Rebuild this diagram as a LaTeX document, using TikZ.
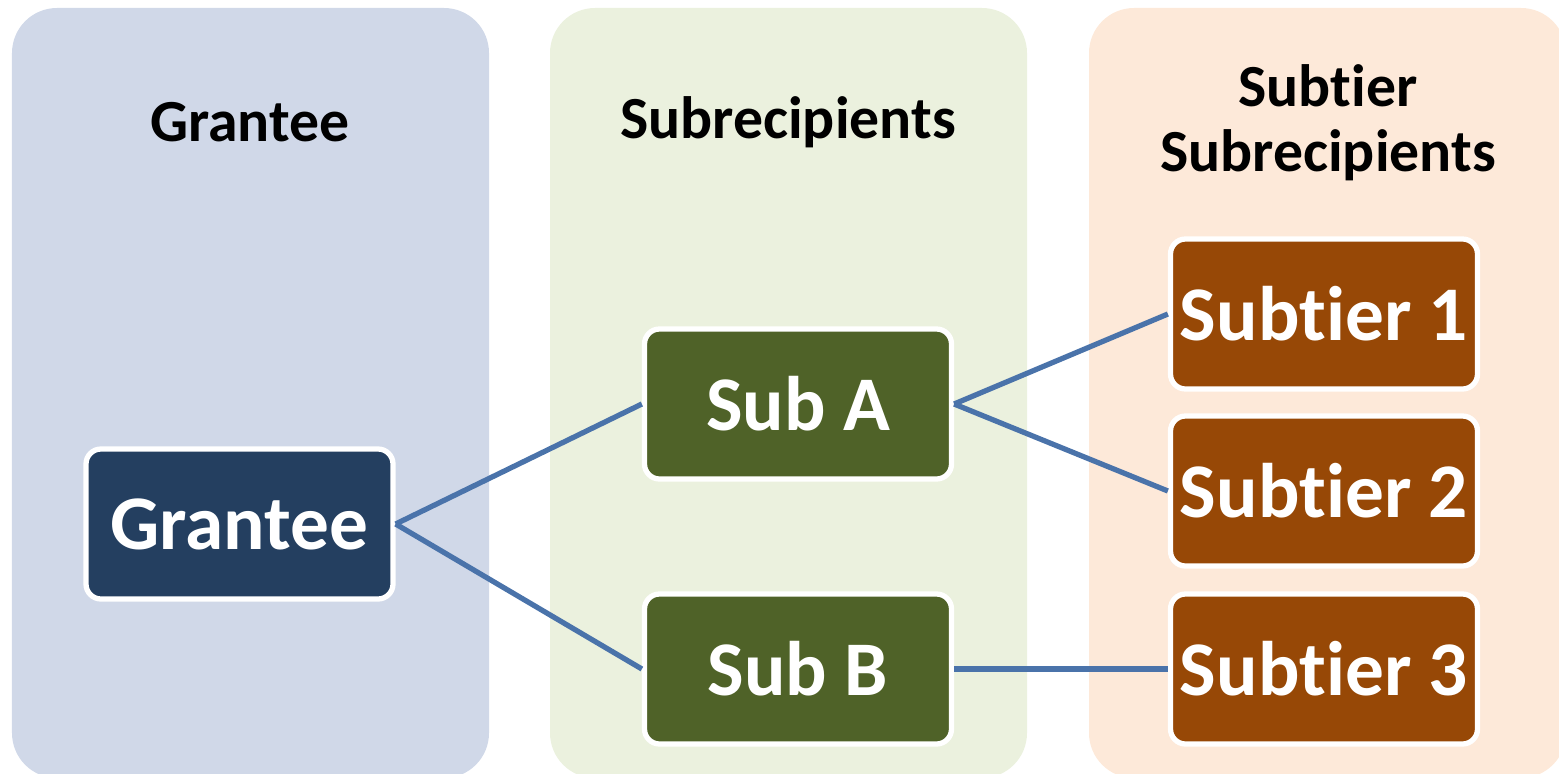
\documentclass[tikz,border=0pt]{standalone}
\usepackage{fontspec}
\setmainfont[Ligatures=NoCommon]{Carlito}
\definecolor{granteebg}{HTML}{D0D8E8}
\definecolor{subbg}{HTML}{EBF1DE}
\definecolor{subtierbg}{HTML}{FDE9D9}
\definecolor{granteefill}{HTML}{243F60}
\definecolor{subfill}{HTML}{4F6228}
\definecolor{subtierfill}{HTML}{974806}
\definecolor{linkblue}{HTML}{4A73AA}
\begin{document}
\begin{tikzpicture}[
  panel/.style={rounded corners=0.45cm},
  heading/.style={font=\bfseries\fontsize{17}{18.5}\selectfont, align=center, inner sep=0pt},
  box/.style={draw=white, line width=1.5pt, rounded corners=0.15cm, minimum width=3.07cm,
    minimum height=1.5cm, text=white, font=\bfseries\fontsize{22}{26}\selectfont, inner sep=0pt},
  link/.style={draw=linkblue, line width=1.5pt}
]
\useasboundingbox (0,0) rectangle (15.59,7.73);
\clip (0,0) rectangle (15.59,7.73);
% columns
\fill[panel, fill=granteebg] (0.12,-0.05) rectangle (4.89,7.65);
\fill[panel, fill=subbg] (5.50,-0.05) rectangle (10.27,7.65);
\fill[panel, fill=subtierbg] (10.89,-0.05) rectangle (15.66,7.65);
% headings
\node[heading] (granteehead) at (2.50,6.51) {Grantee};
\node[heading] (subhead) at (7.88,6.51) {Subrecipients};
\node[heading] (subtierhead) at (13.28,6.50) {Subtier\\Subrecipients};
% boxes
\node[box, fill=granteefill] (grantee) at (2.395,2.49) {Grantee};
\node[box, fill=subfill] (subA) at (7.98,3.69) {Sub A};
\node[box, fill=subfill] (subB) at (7.98,1.04) {Sub B};
\node[box, fill=subtierfill] (subtier1) at (13.24,4.59) {Subtier 1};
\node[box, fill=subtierfill] (subtier2) at (13.24,2.82) {Subtier 2};
\node[box, fill=subtierfill] (subtier3) at (13.24,1.04) {Subtier 3};
% links
\draw[link] (grantee.east) -- (subA.west);
\draw[link] (grantee.east) -- (subB.west);
\draw[link] (subA.east) -- (subtier1.west);
\draw[link] (subA.east) -- (subtier2.west);
\draw[link] (subB.east) -- (subtier3.west);
\end{tikzpicture}
\end{document}
